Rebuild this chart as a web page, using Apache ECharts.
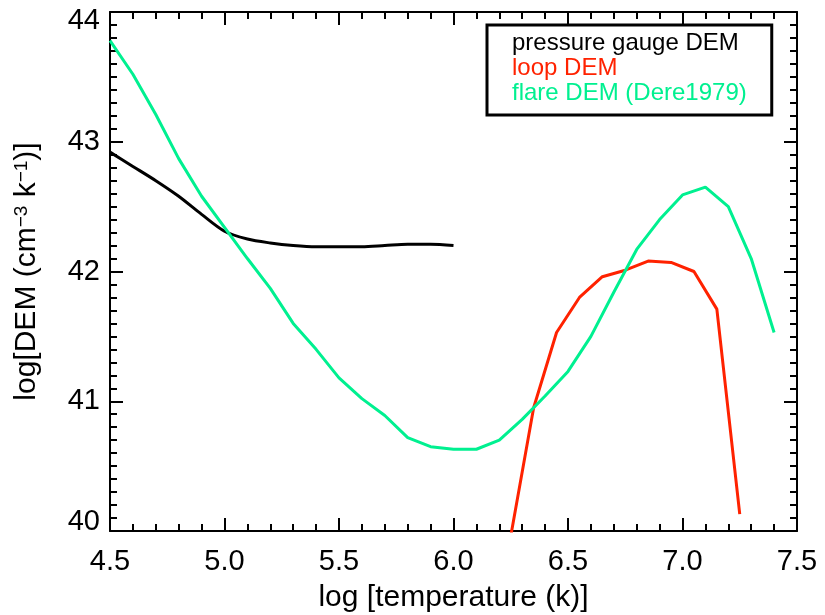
<!DOCTYPE html>
<html>
<head>
<meta charset="utf-8">
<script src="https://cdn.jsdelivr.net/npm/echarts@6/dist/echarts.min.js"></script>
<style>
html,body{margin:0;padding:0;background:#fff;}
#chart{width:825px;height:615px;}
</style>
</head>
<body>
<div id="chart"></div>
<script>
// log temperature (k) grids
var tempPressure = [4.5,4.6,4.7,4.8,4.9,5.0,5.1,5.2,5.3,5.4,5.5,5.6,5.7,5.8,5.9,6.0];
var demPressure  = [42.92,42.81,42.70,42.58,42.44,42.31,42.25,42.22,42.20,42.19,42.19,42.19,42.20,42.21,42.21,42.20];

var tempLoop = [6.25,6.35,6.45,6.55,6.65,6.75,6.85,6.95,7.05,7.15,7.25];
var demLoop  = [39.96,40.95,41.53,41.80,41.96,42.01,42.08,42.07,42.00,41.71,40.13];

var tempFlare = [4.5,4.6,4.7,4.8,4.9,5.0,5.1,5.2,5.3,5.4,5.5,5.6,5.7,5.8,5.9,6.0,6.1,6.2,6.3,6.4,6.5,6.6,6.7,6.8,6.9,7.0,7.1,7.2,7.3,7.4];
var demFlare  = [43.78,43.52,43.21,42.87,42.58,42.34,42.10,41.87,41.60,41.40,41.18,41.02,40.89,40.72,40.65,40.63,40.63,40.70,40.86,41.04,41.23,41.50,41.84,42.17,42.40,42.59,42.65,42.50,42.10,41.53];

var seriesNames = ['pressure gauge DEM','loop DEM','flare DEM (Dere1979)'];
var seriesColors = ['#000000','#ff2200','#00f090'];

var xTicks = {min:4.5, max:7.5, interval:0.5};
var yTicks = {min:40, max:44, interval:1};

function pairs(xs, ys){ return xs.map(function(x,i){ return [x, ys[i]]; }); }

var FONT = 'Liberation Sans, Arial, Helvetica, sans-serif';
var axisLineStyle = {color:'#000', width:2};

var chart = echarts.init(document.getElementById('chart'), null, {renderer:'canvas'});

var baseX = {
  type:'value', min:xTicks.min, max:xTicks.max, interval:xTicks.interval,
  axisLine:{show:true, onZero:false, lineStyle:axisLineStyle},
  axisTick:{show:true, inside:true, length:13, lineStyle:{color:'#000', width:2}},
  minorTick:{show:true, splitNumber:5, length:7, lineStyle:{color:'#000', width:2}},
  splitLine:{show:false}, minorSplitLine:{show:false}
};
var baseY = {
  type:'value', min:yTicks.min, max:yTicks.max, interval:yTicks.interval,
  axisLine:{show:true, onZero:false, lineStyle:axisLineStyle},
  axisTick:{show:true, inside:true, length:13, lineStyle:{color:'#000', width:2}},
  minorTick:{show:true, splitNumber:10, length:7, lineStyle:{color:'#000', width:2}},
  splitLine:{show:false}, minorSplitLine:{show:false}
};

var option = {
  animation:false,
  backgroundColor:'#fff',
  grid:{left:110, right:28, top:12, bottom:84, containLabel:false, outerBoundsMode:'none'},
  xAxis:[
    Object.assign({}, baseX, {
      position:'bottom',
      name:'log [temperature (k)]', nameLocation:'middle', nameGap:52,
      nameTextStyle:{fontFamily:FONT, fontSize:30, color:'#000'},
      axisLabel:{show:true, margin:16, fontFamily:FONT, fontSize:29, color:'#000',
        formatter:function(v){ return v.toFixed(1); }}
    }),
    Object.assign({}, baseX, {position:'top', axisLabel:{show:false}})
  ],
  yAxis:[
    Object.assign({}, baseY, {
      position:'left',
      name:'{a|log[DEM (cm}{s|\u22123}{a| k}{s|\u22121}{a|)]}',
      nameLocation:'middle', nameGap:62,
      nameTextStyle:{
        fontFamily:FONT, fontSize:30, color:'#000',
        rich:{
          a:{fontFamily:FONT, fontSize:30, lineHeight:30, color:'#000', verticalAlign:'bottom'},
          s:{fontFamily:FONT, fontSize:19, lineHeight:20, color:'#000', verticalAlign:'top', padding:[0,0,26,0]}
        }
      },
      axisLabel:{show:true, margin:10, fontFamily:FONT, fontSize:29, color:'#000',
        formatter:function(v){
          if (v === yTicks.max) return '{t|' + v + '}';
          if (v === yTicks.min) return '{b|' + v + '}';
          return '' + v;
        },
        rich:{
          t:{fontFamily:FONT, fontSize:29, color:'#000', padding:[18,0,0,0]},
          b:{fontFamily:FONT, fontSize:29, color:'#000', padding:[0,0,18,0]}
        }
      }
    }),
    Object.assign({}, baseY, {position:'right', axisLabel:{show:false}})
  ],
  legend:{
    orient:'vertical', left:487, top:25,
    itemWidth:0, itemHeight:0, itemGap:0, icon:'rect',
    borderColor:'#000', borderWidth:3, padding:[6,25,9,20],
    selectedMode:false,
    textStyle:{fontFamily:FONT, fontSize:24, lineHeight:25},
    data:seriesNames.map(function(n,i){ return {name:n, textStyle:{color:seriesColors[i]}}; })
  },
  series:[
    {name:seriesNames[0], type:'line', data:pairs(tempPressure, demPressure), smooth:0.3,
     showSymbol:false, symbol:'none', clip:true,
     lineStyle:{color:seriesColors[0], width:3}, itemStyle:{color:seriesColors[0]}},
    {name:seriesNames[1], type:'line', data:pairs(tempLoop, demLoop),
     showSymbol:false, symbol:'none', clip:true,
     lineStyle:{color:seriesColors[1], width:3}, itemStyle:{color:seriesColors[1]}},
    {name:seriesNames[2], type:'line', data:pairs(tempFlare, demFlare),
     showSymbol:false, symbol:'none', clip:true,
     lineStyle:{color:seriesColors[2], width:3}, itemStyle:{color:seriesColors[2]}}
  ]
};
chart.setOption(option);
</script>
</body>
</html>
